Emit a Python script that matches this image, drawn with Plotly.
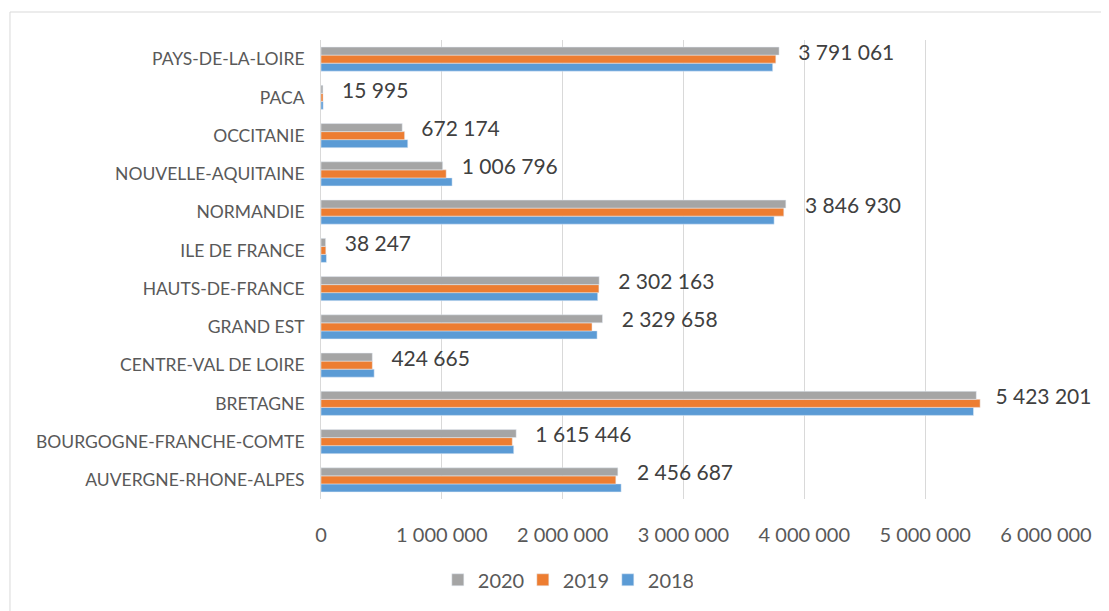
import plotly.graph_objects as go

# regions, bottom to top as in the source sheet
regions = ["AUVERGNE-RHONE-ALPES", "BOURGOGNE-FRANCHE-COMTE", "BRETAGNE",
           "CENTRE-VAL DE LOIRE", "GRAND EST", "HAUTS-DE-FRANCE", "ILE DE FRANCE",
           "NORMANDIE", "NOUVELLE-AQUITAINE", "OCCITANIE", "PACA", "PAYS-DE-LA-LOIRE"]

v2020 = [2456687, 1615446, 5423201, 424665, 2329658, 2302163, 38247,
         3846930, 1006796, 672174, 15995, 3791061]
v2019 = [2440000, 1583000, 5455000, 425000, 2243000, 2300000, 40000,
         3830000, 1036000, 692000, 17000, 3764000]
v2018 = [2484000, 1595000, 5400000, 440000, 2285000, 2290000, 45000,
         3750000, 1085000, 718000, 18000, 3738000]

font = "Lato"

fig = go.Figure()
fig.add_trace(go.Bar(y=regions, x=v2018, name="2018", orientation="h",
                     marker_color="#5B9BD5"))
fig.add_trace(go.Bar(y=regions, x=v2019, name="2019", orientation="h",
                     marker_color="#ED7D31"))
fig.add_trace(go.Bar(y=regions, x=v2020, name="2020", orientation="h",
                     marker_color="#A5A5A5",
                     texttemplate="   %{x:,d}", textposition="outside",
                     textfont=dict(family=font, size=21, color="#404040"),
                     cliponaxis=False, constraintext="none"))

fig.update_layout(
    width=1109, height=611,
    margin=dict(l=313, r=71, t=32, b=120),
    paper_bgcolor="white", plot_bgcolor="white",
    barmode="group", bargap=0.37, bargroupgap=0,
    separators=", ",
    font=dict(family=font, color="#595959"),
    legend=dict(orientation="h", traceorder="reversed",
                x=0.337, xanchor="center", y=-0.176, yanchor="middle",
                entrywidth=40, entrywidthmode="pixels", itemwidth=30,
                font=dict(size=20, color="#595959")),
    xaxis=dict(range=[0, 6000000], dtick=1000000, tickformat=",d",
               showgrid=True, gridcolor="#D9D9D9", gridwidth=1,
               zeroline=False, showline=False,
               tickfont=dict(size=20, color="#595959"),
               ticklabelstandoff=22),
    yaxis=dict(showline=True, linecolor="#D9D9D9", linewidth=1,
               showgrid=False, tickfont=dict(size=17.5, color="#595959"),
               ticklabelstandoff=12),
    showlegend=True,
)

# outer chart border (only top and left edges show in the frame)
fig.add_shape(type="rect", xref="paper", yref="paper",
              x0=-0.429, x1=1.1, y0=-0.26, y1=1.061,
              line=dict(color="#D9D9D9", width=1))

fig.write_html("out.html")
